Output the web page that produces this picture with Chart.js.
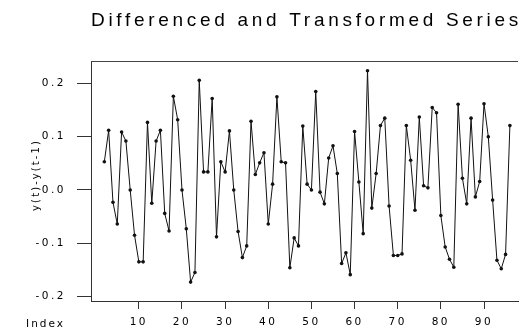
<!DOCTYPE html>
<html>
<head>
<meta charset="utf-8">
<script src="https://cdn.jsdelivr.net/npm/chart.js@4"></script>
<style>
  html, body { margin: 0; padding: 0; background: #fff; }
  canvas { display: block; }
</style>
</head>
<body>
<canvas id="chart" width="522" height="332"></canvas>
<script>
const chartTitle = "Differenced and Transformed Series";
const yAxisTitle = "y(t)-y(t-1)";
const xAxisTitle = "Index";
const firstIndex = 2;
const seriesValues = [
  0.053, 0.112, -0.023, -0.064, 0.109, 0.092, 0.000, -0.085, -0.135, -0.135,
  0.127, -0.025, 0.092, 0.112, -0.044, -0.077, 0.176, 0.132, 0.000, -0.073,
  -0.173, -0.155, 0.206, 0.034, 0.034, 0.172, -0.088, 0.053, 0.034, 0.111,
  0.000, -0.078, -0.127, -0.105, 0.129, 0.029, 0.051, 0.070, -0.064, 0.011,
  0.175, 0.053, 0.051, -0.146, -0.090, -0.105, 0.120, 0.011, 0.000, 0.185,
  -0.004, -0.026, 0.060, 0.083, 0.031, -0.138, -0.118, -0.159, 0.110, 0.015,
  -0.082, 0.224, -0.034, 0.031, 0.121, 0.135, -0.030, -0.123, -0.123, -0.120,
  0.121, 0.056, -0.038, 0.137, 0.008, 0.004, 0.155, 0.145, -0.048, -0.107,
  -0.130, -0.145, 0.161, 0.022, -0.026, 0.135, -0.013, 0.016, 0.162, 0.100,
  -0.019, -0.132, -0.148, -0.121, 0.121
];
const xTickValues = [10, 20, 30, 40, 50, 60, 70, 80, 90];
const yTickValues = [-0.2, -0.1, 0.0, 0.1, 0.2];

const points = seriesValues.map((v, i) => ({ x: firstIndex + i, y: v }));

const sansWide = "'DejaVu Sans', 'Liberation Sans', sans-serif";
Chart.defaults.font.family = sansWide;
Chart.defaults.color = "#000";

// R-style spaced lettering, frame top line, and the extra labels
const decor = {
  id: "decor",
  beforeDraw(chart) {
    chart.ctx.letterSpacing = "2.5px";
  },
  afterDraw(chart) {
    const { ctx, chartArea } = chart;
    ctx.save();
    ctx.strokeStyle = "#444";
    ctx.lineWidth = 1;
    ctx.beginPath();
    ctx.moveTo(chartArea.left, chartArea.top + 0.5);
    ctx.lineTo(chartArea.right, chartArea.top + 0.5);
    ctx.stroke();

    ctx.fillStyle = "#000";
    ctx.letterSpacing = "3.7px";
    ctx.font = "19px 'Liberation Sans', Arial, sans-serif";
    ctx.textAlign = "center";
    ctx.textBaseline = "alphabetic";
    ctx.fillText(chartTitle, 306.5, 25.5);

    ctx.letterSpacing = "2px";
    ctx.font = "10.5px " + sansWide;
    ctx.textAlign = "right";
    ctx.fillText(xAxisTitle, 65, 327);

    ctx.letterSpacing = "2.1px";
    ctx.font = "10px " + sansWide;
    ctx.translate(36, 176);
    ctx.rotate(-Math.PI / 2);
    ctx.textAlign = "center";
    ctx.textBaseline = "middle";
    ctx.fillText(yAxisTitle, 1, 0);
    ctx.restore();
  }
};

new Chart(document.getElementById("chart"), {
  type: "line",
  data: {
    datasets: [{
      data: points,
      borderColor: "#111",
      borderWidth: 1,
      backgroundColor: "#111",
      pointRadius: 1.8,
      pointBorderWidth: 0,
      tension: 0
    }]
  },
  options: {
    responsive: false,
    animation: false,
    layout: { padding: { top: 61, right: 0, bottom: 0, left: 0 } },
    plugins: {
      legend: { display: false },
      tooltip: { enabled: false }
    },
    scales: {
      x: {
        type: "linear",
        min: -1.09,
        max: 97.88,
        afterBuildTicks: s => { s.ticks = xTickValues.map(v => ({ value: v })); },
        afterFit: s => { s.height = 31; },
        grid: { drawOnChartArea: false, drawTicks: true, tickLength: 8, color: "#333" },
        border: { display: true, color: "#333", width: 1 },
        ticks: { font: { size: 10.5 }, padding: 7, maxRotation: 0, autoSkip: false, color: "#000" }
      },
      y: {
        min: -0.2085,
        max: 0.2423,
        afterBuildTicks: s => { s.ticks = yTickValues.map(v => ({ value: v })); },
        afterFit: s => { s.width = 91; },
        grid: { drawOnChartArea: false, drawTicks: true, tickLength: 14, color: "#333" },
        border: { display: true, color: "#333", width: 1 },
        ticks: {
          font: { size: 10.5 },
          padding: 11,
          color: "#000",
          callback: v => v.toFixed(1)
        }
      }
    }
  },
  plugins: [decor]
});
</script>
</body>
</html>
